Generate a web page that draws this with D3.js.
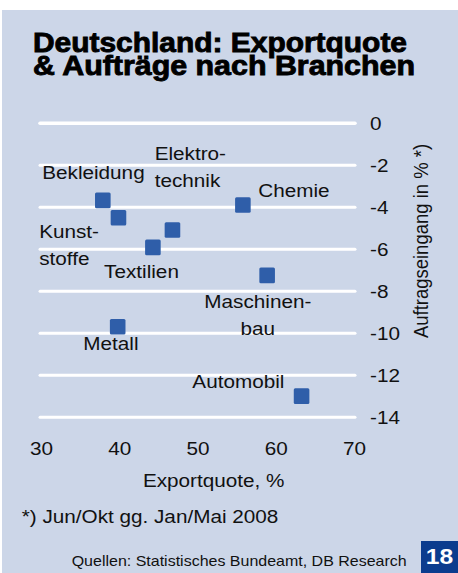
<!DOCTYPE html>
<html><head><meta charset="utf-8">
<script src="https://cdn.jsdelivr.net/npm/d3@7"></script>
<style>html,body{margin:0;padding:0;background:#fff;}svg{display:block;}</style>
</head><body>
<script>
// Data
const branches = ["Bekleidung","Kunststoffe","Elektrotechnik","Textilien","Chemie","Maschinenbau","Metall","Automobil"];
const exportQuote = [37.9, 39.9, 46.8, 44.3, 55.8, 58.9, 39.8, 63.3];
const orderChange = [-3.67, -4.5, -5.08, -5.91, -3.89, -7.24, -9.69, -12.99];
const xTicks = [30, 40, 50, 60, 70];
const yTicks = [0, -2, -4, -6, -8, -10, -12, -14];
const labelLines = [["Bekleidung"],["Kunst-","stoffe"],["Elektro-","technik"],["Textilien"],["Chemie"],["Maschinen-","bau"],["Metall"],["Automobil"]];

// Layout (label offsets relative to point, anchor)
const labelLayout = [
  {dx:-9.4, dy:-28.3, anchor:"middle"},
  {dx:-79.3, dy:14, anchor:"start"},
  {dx:-17.8, dy:-77, anchor:"start"},
  {dx:-48.8, dy:24.2, anchor:"start"},
  {dx:15.3, dy:-15, anchor:"start"},
  {dx:-9.3, dy:26.4, anchor:"middle"},
  {dx:-6.8, dy:16.3, anchor:"middle"},
  {dx:-63.2, dy:-14.3, anchor:"middle"}
];
const lineGap = 27;
const SX = 1.12;

const W = 458, H = 573;
const svg = d3.select("body").append("svg").attr("width", W).attr("height", H)
  .style("font-family", "'Liberation Sans', Arial, Helvetica, sans-serif");

svg.append("rect").attr("x", 2).attr("y", 10).attr("width", 456).attr("height", 563).attr("fill", "#ccd6e8");

// Title (one text element, two lines)
const title = ["Deutschland: Exportquote", "& Aufträge nach Branchen"];
const titleLen = [374, 382];
const tt = svg.append("text")
  .attr("font-size", 28).attr("font-weight", "bold")
  .attr("stroke", "#000").attr("stroke-width", 0.9)
  .attr("fill", "#000");
title.forEach((t, i) => {
  tt.append("tspan").attr("x", 33).attr("y", 52 + i * 22.5)
    .attr("textLength", titleLen[i]).attr("lengthAdjust", "spacingAndGlyphs")
    .text(t);
});

const x = d3.scaleLinear().domain([30, 70]).range([41, 354]);
const y = d3.scaleLinear().domain([0, -14]).range([123.3, 417.3]);

// Gridlines
svg.append("g").selectAll("line").data(yTicks).join("line")
  .attr("x1", 40).attr("x2", 355)
  .attr("y1", d => y(d)).attr("y2", d => y(d))
  .attr("stroke", "#fff").attr("stroke-width", d => d === 0 ? 3.5 : 3)
  .attr("stroke-linecap", "round");

function sText(g, xx, yy, str, size, anchor) {
  return g.append("text")
    .attr("transform", `translate(${xx},${yy}) scale(${SX},1)`)
    .attr("text-anchor", anchor).attr("font-size", size)
    .attr("fill", "#111").text(str);
}

// Y tick labels (right side)
const yAxisG = svg.append("g");
yTicks.forEach(d => sText(yAxisG, 370, y(d) + 6.6, String(d), 18.5, "start"));

// X tick labels
const xAxisG = svg.append("g");
xTicks.forEach(d => sText(xAxisG, x(d) + 0.5, 448.3 + 6.6, String(d), 18.5, "middle"));

// Axis titles
sText(svg, 213.7, 480.7 + 6.6, "Exportquote, %", 18.5, "middle");
svg.append("text")
  .attr("transform", `translate(${421.7 + 6.6},241) rotate(-90) scale(1,${SX})`)
  .attr("text-anchor", "middle").attr("font-size", 18.5).attr("fill", "#111")
  .text("Auftragseingang in % *)");

// Points
svg.append("g").selectAll("rect").data(branches).join("rect")
  .attr("x", (d, i) => x(exportQuote[i]) - 7.8)
  .attr("y", (d, i) => y(orderChange[i]) - 7.8)
  .attr("width", 15.6).attr("height", 15.6)
  .attr("rx", 1.5)
  .attr("fill", "#2f5ea9");

// Labels
branches.forEach((b, i) => {
  const L = labelLayout[i];
  const px = x(exportQuote[i]), py = y(orderChange[i]);
  labelLines[i].forEach((ln, k) => {
    sText(svg, px + L.dx, py + L.dy + k * lineGap + 6.6, ln, 18.5, L.anchor);
  });
});

// Footnote
sText(svg, 21.7, 516.7 + 6.6, "*) Jun/Okt gg. Jan/Mai 2008", 18.5, "start");
svg.append("text").attr("x", 71.7).attr("y", 566.4).attr("font-size", 15).attr("fill", "#111")
  .attr("textLength", 335).attr("lengthAdjust", "spacingAndGlyphs")
  .text("Quellen: Statistisches Bundeamt, DB Research");

// Badge
svg.append("rect").attr("x", 421).attr("y", 541).attr("width", 37).attr("height", 32).attr("fill", "#0b3c8e");
svg.append("text").attr("transform", "translate(439.5,564) scale(1.12,1)")
  .attr("text-anchor", "middle").attr("font-size", 22).attr("font-weight", "bold")
  .attr("fill", "#fff").text("18");
</script>
</body></html>
